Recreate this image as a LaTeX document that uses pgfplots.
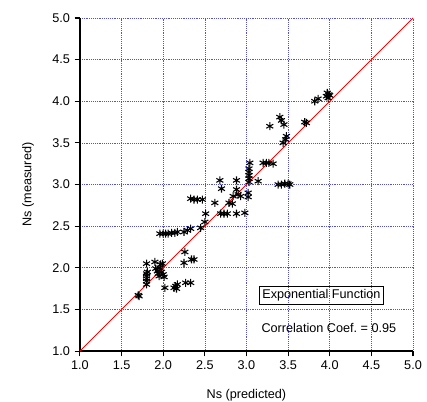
\documentclass[border=0pt]{standalone}
\usepackage{fontspec}
\setmainfont{Liberation Sans}
\usepackage{pgfplots}
\pgfplotsset{compat=1.18}
\definecolor{gridblue}{RGB}{85,85,200}

% Ns predicted vs. measured
\pgfplotstableread{
x y
1.70 1.67
1.71 1.66
1.80 2.05
1.80 1.93
1.80 1.90
1.80 1.87
1.80 1.84
1.80 1.80
1.81 1.95
1.90 2.07
1.91 1.99
1.93 1.96
1.94 1.93
1.95 1.90
1.96 2.00
1.97 2.04
1.98 1.95
1.99 2.05
2.00 1.92
2.01 1.89
2.02 1.76
2.13 1.76
2.15 1.78
2.17 1.80
2.16 1.75
2.27 1.82
2.33 1.82
2.25 2.06
2.26 2.19
2.34 2.10
2.37 2.10
1.96 2.41
2.00 2.41
2.03 2.41
2.06 2.41
2.10 2.42
2.14 2.42
2.17 2.43
2.25 2.43
2.29 2.45
2.33 2.47
2.45 2.48
2.50 2.55
2.51 2.65
2.33 2.83
2.37 2.82
2.41 2.82
2.47 2.82
2.62 2.78
2.69 2.65
2.73 2.65
2.77 2.65
2.70 2.95
2.68 3.05
2.79 2.78
2.83 2.77
2.84 2.86
2.88 2.94
2.90 2.88
2.88 2.65
2.98 2.66
2.93 2.86
3.02 2.90
3.02 2.85
2.88 3.05
3.03 3.03
3.03 3.07
3.03 3.11
3.03 3.15
3.03 3.19
3.04 3.26
3.14 3.04
3.20 3.26
3.24 3.26
3.27 3.26
3.32 3.25
3.38 3.00
3.42 3.00
3.46 3.01
3.50 3.01
3.52 3.00
3.28 3.70
3.40 3.81
3.42 3.77
3.45 3.72
3.44 3.50
3.47 3.54
3.48 3.58
3.70 3.75
3.72 3.74
3.82 4.00
3.86 4.03
3.96 4.06
3.97 4.10
3.98 4.04
3.99 4.08
4.00 4.07
}\nsdata

\begin{document}
\begin{tikzpicture}[font=\fontsize{9.5}{11}\selectfont]
\begin{axis}[
    scale only axis,
    width=250pt, height=250pt,
    xmin=1, xmax=5, ymin=1, ymax=5,
    xtick={1,1.5,...,5}, ytick={1,1.5,...,5},
    axis lines*=left,
    axis line style={black, line width=0.9pt},
    tick align=outside,
    major tick length=4pt,
    tick style={black, line width=0.8pt},
    grid=major,
    major grid style={gridblue, densely dotted, line width=0.5pt},
    /pgf/number format/.cd, fixed, fixed zerofill, precision=1,
    assume math mode=true,
    /pgfplots/.cd,
    xlabel={Ns (predicted)},
    ylabel={Ns (measured)},
    xlabel style={at={(axis description cs:0.5,-0.132)}, anchor=center},
    ylabel style={at={(axis description cs:-0.156,0.5)}, anchor=center},
    clip=false,
]
\addplot[red, line width=0.7pt] coordinates {(1,1) (5,5)};
\addplot[only marks, mark=asterisk, mark size=3pt,
    mark options={black, line width=0.8pt}] table[x=x, y=y] {\nsdata};
\node[draw, line width=0.7pt, inner sep=2pt] at (axis cs:3.90,1.667) {Exponential Function};
\node at (axis cs:3.99,1.28) {Correlation Coef.\ = 0.95};
\end{axis}
\pgfresetboundingbox
\path[use as bounding box] (-60pt,-37.5pt) rectangle (260.5pt,263.5pt);
\end{tikzpicture}
\end{document}
